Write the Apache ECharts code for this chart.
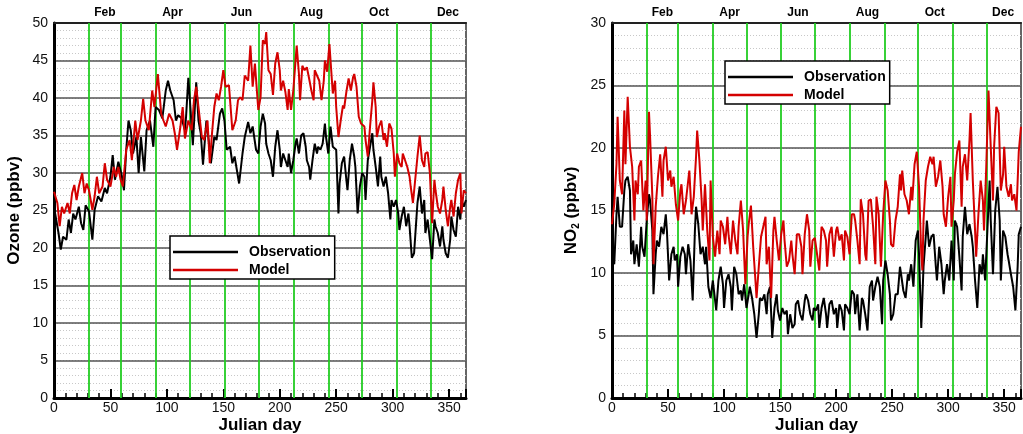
<!DOCTYPE html>
<html>
<head>
<meta charset="utf-8">
<title>Ozone and NO2: observation vs model</title>
<script src="https://cdn.jsdelivr.net/npm/echarts@6/dist/echarts.min.js"></script>
<style>
  html, body { margin: 0; padding: 0; background: #fff; }
  #chart { width: 1023px; height: 434px; }
</style>
</head>
<body>
<div id="chart"></div>
<script>
// Month boundaries (first day of each month) and mid-month label positions
const monthStarts = [31, 59, 90, 120, 151, 181, 212, 243, 273, 304, 334];
const monthLabelDays = [45, 105, 166, 228, 288, 349];
const monthLabels = ['Feb', 'Apr', 'Jun', 'Aug', 'Oct', 'Dec'];

// Daily ozone, ppbv  [julian day, value]
const ozoneObs = [[0,23.5],[1,24.6],[4,22.0],[6,19.8],[8,21.5],[11,21.1],[13,23.8],[15,22],[17,24.6],[19,23.8],[22,25.5],[24,23.3],[26,22.4],[28,25.7],[31,24.9],[34,21.1],[36,25.1],[39,26.9],[42,26.2],[45,28],[47,27.3],[50,29.5],[52,32.4],[54,29.1],[57,31.5],[60,29.7],[62,27.7],[64,33.1],[66,37],[68,35.7],[70,32.6],[73,34.8],[75,30],[77,34.8],[80,30.2],[82,35.7],[85,37],[88,33.5],[90,38.8],[93,38.4],[96,37.3],[99,41],[101,42.3],[103,41],[106,39.7],[108,37],[110,37.7],[113,37.3],[116,35.7],[117,37.5],[119,42.7],[121,38.4],[123,33.7],[126,42.1],[128,37],[130,35.3],[132,31.1],[135,37],[137,34.4],[139,31.3],[142,34.8],[144,34.4],[147,37.9],[149,38.6],[151,37],[153,33.1],[156,33.5],[158,31.3],[160,32.2],[162,30.4],[164,28.6],[167,32.6],[169,34.8],[172,36.8],[174,35.3],[176,36.2],[179,33.1],[181,32.6],[183,36.2],[185,37.9],[187,36.6],[188,33.9],[190,32.6],[192,31.7],[194,29.5],[196,33.5],[198,35.7],[200,33.1],[201,30.8],[203,32.6],[205,31.7],[207,30.8],[208,32.6],[210,30],[212,31.7],[214,33.9],[215,34.6],[217,32.6],[219,35],[221,35.3],[223,33.5],[224,31.7],[226,30.8],[227,29.1],[229,31.7],[231,33.9],[233,32.6],[234,33.5],[236,33.1],[238,33.9],[240,36.6],[241,34.8],[243,32.6],[245,36.2],[247,33.5],[250,33.1],[252,24.6],[253,28.6],[255,31.3],[257,32.2],[259,29.1],[260,27.7],[262,31.7],[264,33.9],[266,32.2],[267,30.8],[269,24.6],[271,28.2],[273,30],[275,29.5],[276,26.4],[278,31.7],[280,33.5],[282,35.3],[283,33.1],[285,30.8],[287,28.2],[289,32.2],[290,29.5],[292,28.2],[294,29.5],[296,27.3],[298,23.8],[299,26.4],[301,25.5],[303,26.4],[305,24.6],[306,22.4],[308,24.2],[310,25.5],[312,22.9],[314,24.6],[315,22.9],[317,18.7],[319,19.3],[321,23.8],[322,26],[324,28.2],[326,24.6],[328,26.4],[329,22],[331,23.8],[333,21.1],[335,18.5],[337,23.8],[338,22.9],[340,22],[342,20.2],[344,22.9],[345,21.1],[347,19.3],[349,18.7],[351,21.1],[352,24.2],[354,22.4],[356,21.5],[358,25.5],[360,23.8],[361,26.4],[363,25.5],[365,26.4]];

const ozoneModel = [[0,27.5],[3,26],[5,22.9],[7,25.5],[9,24.6],[12,26],[14,24.6],[16,27.3],[18,28.4],[20,26.4],[22,28.2],[25,30],[27,27.3],[29,28.6],[31,27.7],[34,25.1],[36,26.9],[38,29.5],[40,27.3],[43,28.2],[45,31.3],[47,29.1],[50,28.2],[53,30.8],[55,29.5],[57,30.8],[59,29.1],[61,28.2],[64,33.1],[67,34.4],[69,31.7],[72,37],[74,34.4],[77,37],[79,39.9],[81,37],[84,35.7],[87,41],[89,38.8],[92,43.2],[95,37.9],[97,37],[99,36.2],[102,37.9],[105,37],[107,35.3],[109,33.1],[112,36.2],[114,38.8],[116,34.6],[119,37],[122,35.7],[124,39.7],[126,41.5],[128,38.8],[131,34.8],[133,34.4],[136,37],[138,31.3],[140,35.3],[142,38.8],[144,40.6],[146,39.7],[148,41.5],[150,43.7],[152,41.5],[155,41.7],[156,39.7],[158,35.7],[161,37],[163,39.7],[165,40.1],[167,39.7],[169,43],[172,42.3],[174,47],[176,41.5],[178,44.6],[181,38.4],[183,40.1],[185,47.7],[187,47.2],[188,48.8],[190,43.7],[192,43.2],[194,40.4],[196,44.6],[198,46.1],[200,43.7],[201,41],[203,42.3],[205,40.8],[207,38.4],[208,41.2],[210,38.4],[212,41],[214,45],[215,47],[217,43.2],[218,39.7],[220,44.3],[222,43.7],[224,44.1],[226,42.6],[228,41],[230,39.7],[231,43.7],[233,43],[235,42.3],[237,39.7],[239,42.3],[240,45],[242,43.5],[244,47.2],[245,45],[247,40.6],[249,42.3],[250,38.8],[252,34.8],[254,37],[256,39],[257,38.6],[259,40.8],[261,42.6],[263,41],[265,42.8],[266,43.2],[268,41.5],[270,37.5],[272,36.6],[275,36.2],[276,34.4],[278,32.2],[280,36.2],[282,39.7],[283,42.1],[285,38.8],[286,34.8],[288,36.2],[290,37],[292,34.4],[293,35.3],[295,33.5],[297,36.6],[299,35.9],[301,32.6],[302,29.5],[304,32.6],[306,31.3],[308,30.8],[309,32.6],[311,31.7],[313,30.8],[315,29.5],[316,28.2],[318,26],[320,29.1],[322,32.2],[324,35],[326,31.7],[328,30.8],[329,32.6],[331,32.8],[333,30],[335,23.3],[337,29.1],[338,27.7],[340,25.5],[342,24.6],[344,26.4],[345,28.2],[347,25.1],[349,22.9],[351,25.5],[352,26.4],[354,24.2],[356,27.3],[358,29.1],[360,30],[361,24.6],[363,27.7],[365,27.3]];

// Daily NO2, ppbv  [julian day, value]
const no2Obs = [[0,11.3],[2,10.7],[4,14.7],[5,16.1],[7,13.7],[9,13.7],[11,16.6],[12,17.4],[14,17.7],[16,16.6],[17,11.5],[19,12.6],[20,10.7],[22,12.3],[24,10.5],[26,13.7],[27,12.1],[29,11.3],[31,14.2],[33,16.3],[34,15.8],[36,13.4],[37,8.3],[39,11.5],[40,12.6],[42,12.1],[44,13.7],[46,13.1],[48,14.7],[49,13.4],[51,9.4],[53,11.5],[55,12.1],[56,11],[58,11.5],[59,8.9],[61,11.3],[63,12.1],[65,11.5],[66,9.9],[68,12.3],[70,11],[72,7.8],[74,13.4],[75,15.3],[77,13.9],[79,11.5],[81,12.1],[83,10.7],[84,12.1],[86,8.9],[88,8],[90,9.4],[91,8.6],[93,7],[95,9.4],[97,10.5],[99,9.1],[100,7.2],[102,9.4],[104,9.9],[106,8.9],[107,7],[109,10.5],[111,9.9],[113,8.3],[115,8.6],[116,7.8],[118,9.1],[120,7.2],[122,8.3],[123,8.9],[125,8],[127,6.7],[129,4.8],[131,6.7],[132,8],[134,7.8],[136,8.3],[138,6.7],[139,8.3],[141,8.9],[143,4.8],[145,7.2],[147,8.3],[148,7],[150,6.2],[152,7.2],[154,6.7],[156,7],[157,5.1],[159,6.7],[161,5.6],[163,5.9],[164,7.5],[166,7.8],[168,6.7],[170,6.2],[172,7.8],[173,8.3],[175,7.8],[177,6.7],[179,6.2],[180,7.2],[182,7],[184,7.5],[185,5.6],[187,7.2],[189,8],[191,6.7],[192,5.6],[194,7.5],[196,7.8],[198,6.7],[200,7.2],[201,5.6],[203,7.5],[205,7],[207,5.4],[208,7.5],[210,7.2],[212,6.7],[214,8.6],[216,8.3],[217,6.7],[219,8.3],[221,5.4],[223,8],[224,7.8],[226,6.7],[228,5.4],[230,8.9],[232,9.4],[233,7.8],[235,8.9],[237,9.7],[239,8.9],[241,5.9],[242,9.4],[244,11],[246,9.9],[248,8.3],[249,6.2],[251,6.7],[253,8.3],[255,8.3],[257,10.5],[258,9.9],[260,8.6],[262,8],[264,9.9],[265,9.4],[267,10.7],[269,8.9],[271,12.6],[273,13.4],[274,11.5],[276,5.6],[278,10.5],[280,12.9],[281,14.2],[283,12.1],[285,12.9],[287,13.1],[289,10.5],[290,9.4],[292,12.1],[294,10.7],[296,8.3],[297,9.4],[299,10.7],[301,9.4],[303,12.6],[305,9.4],[306,14.2],[308,13.7],[310,11.3],[312,8.6],[313,12.9],[315,15.3],[317,13.1],[319,13.9],[321,12.9],[322,12.1],[324,9.4],[326,7.2],[328,10.7],[330,9.9],[331,11.5],[333,9.4],[335,13.4],[337,17.4],[338,14.2],[340,9.9],[342,15],[344,16.9],[346,14.2],[347,9.4],[349,13.4],[351,12.9],[353,11.5],[354,11],[356,9.9],[358,8.9],[360,7],[362,10.5],[363,13.1],[365,13.7]];

const no2Model = [[0,13.9],[2,15.5],[4,18.7],[5,22.5],[7,17.4],[9,16.3],[11,23],[12,18.7],[14,24.1],[16,20.1],[18,18.5],[20,14.2],[21,17.4],[23,16.3],[24,18.5],[26,19],[28,15],[30,17.4],[31,14.2],[33,22.9],[34,20.9],[36,16.1],[37,10.7],[39,15.3],[41,17.7],[43,19.5],[45,16.1],[46,19],[48,20.1],[50,17.4],[52,18.2],[53,16.9],[55,17.7],[57,15.5],[59,14.2],[61,16.6],[62,17.1],[64,14.7],[66,15.8],[68,17.4],[69,18.2],[71,14.7],[73,16.1],[75,19.3],[76,21.4],[78,19],[80,15.8],[81,13.4],[83,17.1],[85,13.4],[87,11],[88,17.4],[90,12.9],[92,11.3],[94,13.4],[96,11.5],[97,14.2],[99,13.7],[101,12.3],[103,14.5],[104,13.1],[106,11.5],[108,14.2],[110,12.6],[112,11.5],[113,13.7],[115,15.8],[117,13.4],[119,9.1],[121,12.9],[122,13.9],[124,15.4],[126,12.1],[128,9.4],[129,8],[131,10.5],[133,12.9],[135,13.7],[137,14.5],[138,10.7],[140,12.1],[142,8],[144,13.4],[145,14.5],[147,12.6],[149,11],[151,13.1],[153,14.2],[154,12.6],[156,10.5],[158,11],[160,12.6],[161,11.5],[163,9.9],[165,13.1],[167,13.1],[169,12.1],[170,9.9],[172,13.1],[174,14.7],[176,13.4],[177,10.5],[179,12.6],[181,12.8],[183,11.5],[185,10.2],[187,13.7],[189,13.4],[191,12.6],[192,10.5],[194,13.1],[196,13.7],[198,11.3],[200,13.4],[201,13.7],[203,12.6],[205,13.1],[207,11],[208,13.4],[210,12.9],[212,11.5],[214,14.7],[216,14.7],[217,14.2],[219,12.6],[221,10.7],[222,15.9],[224,14.7],[226,11.5],[227,11],[229,15.8],[231,15.9],[233,13.7],[235,10.7],[236,16.1],[238,14.7],[240,10.5],[242,14.7],[244,17.4],[246,16.6],[248,14.2],[249,12.3],[251,12.1],[253,14.2],[255,15.3],[257,17.9],[258,16.6],[259,18.2],[261,16.3],[263,15.8],[265,14.7],[267,16.9],[268,15.8],[270,18.7],[272,19.7],[274,16.9],[276,11.5],[277,10.2],[278,14.2],[280,17.4],[282,18.5],[284,19.3],[286,18.7],[287,19.3],[289,16.9],[291,17.7],[293,19],[295,16.9],[296,14.7],[298,13.7],[300,16.1],[302,17.7],[303,13.7],[305,15.8],[306,17.9],[308,19.7],[310,20.6],[312,15.3],[313,18.5],[315,19.5],[317,17.4],[319,20.6],[320,22.8],[322,17.4],[324,13.4],[325,11.3],[327,14.7],[329,17.4],[331,15.8],[332,13.4],[334,18.5],[336,24.6],[338,20.1],[340,15.8],[341,20.1],[343,23.3],[345,22.8],[347,16.6],[349,17.9],[350,20.1],[352,16.9],[354,16.1],[356,17.1],[357,15.8],[359,16.3],[361,15],[363,19.7],[365,21.7]];

const FONT = '"Liberation Sans", Arial, Helvetica, sans-serif';
const OBS_COLOR = '#000000';
const MODEL_COLOR = '#d40000';
const MONTH_GREEN = '#22cc22';

function bottomAxis(gridIndex) {
  return {
    type: 'value', gridIndex: gridIndex, position: 'bottom',
    min: 0, max: 365, interval: 50,
    name: 'Julian day', nameLocation: 'middle', nameGap: 19, nameMoveOverlap: false,
    nameTextStyle: { fontFamily: FONT, fontWeight: 'bold', fontSize: 17, color: '#000', verticalAlign: 'top' },
    axisLine: { show: true, onZero: false, lineStyle: { color: '#000', width: 3 } },
    axisTick: { show: true, inside: true, length: 9, lineStyle: { color: '#000', width: 2 } },
    minorTick: { show: true, splitNumber: 5, length: 5, lineStyle: { color: '#000', width: 1.5 } },
    axisLabel: { fontFamily: FONT, fontSize: 14, color: '#111', margin: 3, showMaxLabel: false },
    splitLine: { show: false }
  };
}

function topAxis(gridIndex) {
  return {
    type: 'value', gridIndex: gridIndex, position: 'top',
    min: 0, max: 365,
    axisLine: { show: true, onZero: false, lineStyle: { color: '#222', width: 2 } },
    axisTick: { show: false },
    splitLine: { show: false },
    axisLabel: {
      customValues: monthLabelDays,
      formatter: function (v) { return monthLabels[monthLabelDays.indexOf(v)] || ''; },
      fontFamily: FONT, fontWeight: 'bold', fontSize: 12, color: '#000', margin: 4
    }
  };
}

// Faint dotted lines at every unit (drawn first so the solid lines cover them)
function dottedAxis(gridIndex, maxVal) {
  return {
    type: 'value', gridIndex: gridIndex, position: 'left', offset: 0,
    min: 0, max: maxVal, interval: 1,
    axisLine: { show: false }, axisTick: { show: false }, axisLabel: { show: false },
    splitLine: { show: true, lineStyle: { color: '#c8c8c8', width: 1, type: [1, 2] } }
  };
}

function leftAxis(gridIndex, maxVal, name) {
  return {
    type: 'value', gridIndex: gridIndex, position: 'left', offset: 0,
    min: 0, max: maxVal, interval: 5,
    name: name, nameLocation: 'middle', nameGap: 31, nameRotate: 90,
    nameTextStyle: {
      fontFamily: FONT, fontWeight: 'bold', fontSize: 17, color: '#000',
      rich: {
        b: { fontFamily: FONT, fontWeight: 'bold', fontSize: 17, color: '#000', lineHeight: 20 },
        s: { fontFamily: FONT, fontWeight: 'bold', fontSize: 10, color: '#000', lineHeight: 10, verticalAlign: 'bottom' }
      }
    },
    axisLine: { show: true, onZero: false, lineStyle: { color: '#000', width: 3 } },
    axisTick: { show: false },
    axisLabel: { fontFamily: FONT, fontSize: 14, color: '#111', margin: 6 },
    splitLine: { show: true, lineStyle: { color: '#555', width: 1.5 } }
  };
}

function monthLines(gridIdx) {
  return {
    type: 'line', xAxisIndex: gridIdx * 2, yAxisIndex: 2 + gridIdx, data: [], z: 1,
    silent: true,
    markLine: {
      silent: true, symbol: ['none', 'none'], animation: false, z: 1,
      label: { show: false },
      emphasis: { disabled: true },
      lineStyle: { color: MONTH_GREEN, width: 1.8, type: 'solid' },
      data: monthStarts.map(function (d) { return { xAxis: d }; })
    }
  };
}

function dataSeries(name, data, color, gridIdx) {
  return {
    type: 'line', name: name, data: data,
    xAxisIndex: gridIdx * 2, yAxisIndex: 2 + gridIdx,
    symbol: 'none', showSymbol: false, z: 3, animation: false,
    lineStyle: { color: color, width: 2 },
    itemStyle: { color: color }
  };
}

function legendBox(left, top) {
  return {
    left: left, top: top, orient: 'vertical',
    data: ['Observation', 'Model'],
    icon: 'rect',
    itemWidth: 65, itemHeight: 2.5, itemGap: 2,
    padding: [8, 4, 1, 3],
    borderColor: '#000', borderWidth: 1.5, backgroundColor: '#fff',
    textStyle: { fontFamily: FONT, fontWeight: 'bold', fontSize: 14, lineHeight: 16, color: '#000', padding: [0, 0, 0, 6] },
    selectedMode: false
  };
}

const chart = echarts.init(document.getElementById('chart'), null, { renderer: 'canvas' });
chart.setOption({
  backgroundColor: '#fff',
  animation: false,
  textStyle: { fontFamily: FONT },
  grid: [
    { left: 54, top: 23, width: 412, height: 375, show: true, borderColor: '#333', borderWidth: 1.5, backgroundColor: '#fff', outerBoundsMode: 'none', containLabel: false },
    { left: 612, top: 23, width: 409, height: 375, show: true, borderColor: '#333', borderWidth: 1.5, backgroundColor: '#fff', outerBoundsMode: 'none', containLabel: false }
  ],
  xAxis: [bottomAxis(0), topAxis(0), bottomAxis(1), topAxis(1)],
  yAxis: [
    dottedAxis(0, 50),
    dottedAxis(1, 30),
    leftAxis(0, 50, 'Ozone (ppbv)'),
    leftAxis(1, 30, '{b|NO}{s|2}{b| (ppbv)}')
  ],
  legend: [legendBox(170, 236), legendBox(725, 61)],
  series: [
    monthLines(0),
    dataSeries('Observation', ozoneObs, OBS_COLOR, 0),
    dataSeries('Model', ozoneModel, MODEL_COLOR, 0),
    monthLines(1),
    dataSeries('Observation', no2Obs, OBS_COLOR, 1),
    dataSeries('Model', no2Model, MODEL_COLOR, 1)
  ]
});
</script>
</body>
</html>
